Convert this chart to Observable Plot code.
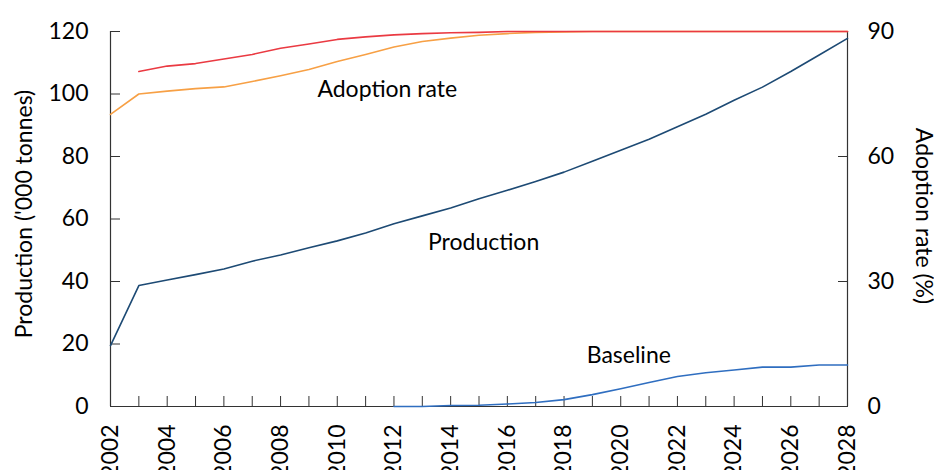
<!DOCTYPE html>
<html><head><meta charset="utf-8">
<script src="https://cdn.jsdelivr.net/npm/d3@7"></script>
<script src="https://cdn.jsdelivr.net/npm/@observablehq/plot@0.6"></script>
<style>body{margin:0;background:#fff;} svg{display:block}</style>
</head><body><div id="chart"></div>
<script>
// ---- data ----
const years = [2002,2003,2004,2005,2006,2007,2008,2009,2010,2011,2012,2013,2014,2015,2016,2017,2018,2019,2020,2021,2022,2023,2024,2025,2026,2027,2028];
const yearLabels = [2002,2004,2006,2008,2010,2012,2014,2016,2018,2020,2022,2024,2026,2028];
const production = [19.5,38.7,40.5,42.2,44,46.5,48.5,50.8,53,55.5,58.5,61,63.5,66.5,69.2,72,75,78.5,82,85.5,89.5,93.5,98,102.2,107.2,112.5,117.8];
const baselineYears = [2012,2013,2014,2015,2016,2017,2018,2019,2020,2021,2022,2023,2024,2025,2026,2027,2028];
const baseline = [0,0,0.3,0.4,0.8,1.3,2.2,3.8,5.7,7.7,9.6,10.8,11.7,12.6,12.6,13.3,13.3];
// adoption rate (%), right axis
const adoptionA = [70.1,75.0,75.7,76.3,76.7,78.0,79.4,80.9,82.8,84.5,86.3,87.6,88.4,89.1,89.5,89.8,89.9,90,90,90,90,90,90,90,90,90,90];
const adoptionBYears = years.slice(1);
const adoptionB = [80.4,81.7,82.3,83.4,84.5,86.0,87.0,88.1,88.7,89.2,89.5,89.7,89.8,90,90,90,90,90,90,90,90,90,90,90,90,90];
const leftTicks = [0,20,40,60,80,100,120];
const rightTicks = [0,30,60,90];
const seriesLabels = [
  {text:"Adoption rate", year:2009.3, value:101.4},
  {text:"Production", year:2013.2, value:52.5},
  {text:"Baseline", year:2018.8, value:16.3}
];

// ---- build ----
const k = 120/90; // right-axis units -> left-axis units
const rows = (xs, vs, f=1) => xs.map((x,i)=>({year:x, value:vs[i]*f}));
const axisColor = "#333";
const fs = 23;

const chart = Plot.plot({
  width: 934, height: 470,
  marginLeft: 110, marginRight: 87, marginTop: 31, marginBottom: 64,
  style: {fontFamily: "Lato, 'Open Sans', sans-serif", fontSize: fs + "px", color: "#000", background: "#fff", overflow: "visible"},
  x: {domain: [2002, 2028]},
  y: {domain: [0, 120]},
  marks: [
    // axis ticks (inward)
    Plot.axisX({ticks: years, tickSize: -10, tickFormat: () => "", label: null, stroke: axisColor}),
    Plot.axisX({ticks: yearLabels, tickSize: 0, tickPadding: 18, tickRotate: -90, textAnchor: "end", lineAnchor: "middle", tickFormat: d => String(d), label: null, fontSize: fs}),
    Plot.axisY({ticks: leftTicks, tickSize: -10, tickFormat: () => "", label: null, stroke: axisColor}),
    Plot.axisY({ticks: leftTicks, tickSize: 0, tickPadding: 22, label: null, fontSize: fs}),
    Plot.axisY({anchor: "right", ticks: rightTicks.map(v => v*k), tickSize: -10, tickFormat: () => "", label: null, stroke: axisColor}),
    Plot.axisY({anchor: "right", ticks: rightTicks.map(v => v*k), tickSize: 0, tickPadding: 20, tickFormat: d => String(Math.round(d/k)), label: null, fontSize: fs}),
    // frame lines
    Plot.ruleX([years[0], years[years.length-1]], {stroke: axisColor, strokeWidth: 1.2}),
    Plot.ruleY([0], {stroke: axisColor, strokeWidth: 1.2}),
    // series
    Plot.line(rows(baselineYears, baseline), {x: "year", y: "value", stroke: "#2f6ec0", strokeWidth: 1.6}),
    Plot.line(rows(years, production), {x: "year", y: "value", stroke: "#1d4a74", strokeWidth: 1.6}),
    Plot.line(rows(years, adoptionA, k), {x: "year", y: "value", stroke: "#f7a045", strokeWidth: 1.6}),
    Plot.line(rows(adoptionBYears, adoptionB, k), {x: "year", y: "value", stroke: "#ea3a42", strokeWidth: 1.6}),
    // series labels
    Plot.text(seriesLabels, {x: "year", y: "value", text: "text", textAnchor: "start", fontSize: fs, fill: "#000"}),
    // axis titles
    Plot.text(["Production ('000 tonnes)"], {frameAnchor: "left", textAnchor: "middle", rotate: -90, dx: -86, dy: -5, fontSize: fs, fill: "#000"}),
    Plot.text(["Adoption rate (%)"], {frameAnchor: "right", textAnchor: "middle", rotate: 90, dx: 76, dy: -3, fontSize: fs, fill: "#000"})
  ]
});
document.getElementById("chart").appendChild(chart);
</script>
</body></html>
